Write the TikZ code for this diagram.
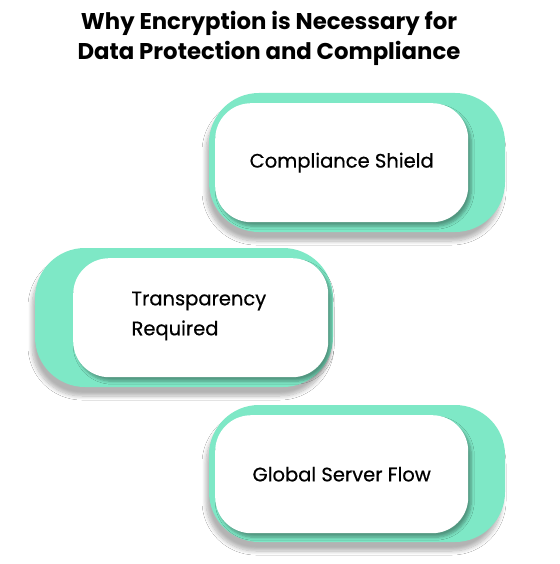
\documentclass[tikz,border=0pt]{standalone}
\usepackage{fontspec}
\setmainfont{Poppins}
\newfontfamily\lblfont{Poppins}[FakeBold=0.6]
\usetikzlibrary{shadows.blur}
\definecolor{mint}{RGB}{126,232,198}
\tikzset{
  greenpill/.style={fill=mint, rounded corners=50pt, blur shadow={shadow xshift=-3pt, shadow yshift=-9pt, shadow blur steps=8, shadow blur radius=4pt, shadow opacity=30}},
  whitepill/.style={fill=white, rounded corners=36pt, blur shadow={shadow xshift=3pt, shadow yshift=-4pt, shadow blur steps=6, shadow blur radius=3pt, shadow opacity=35}},
  lbl/.style={font=\lblfont\fontsize{19.5}{30}\selectfont, text=black},
}
\begin{document}
\begin{tikzpicture}[x=1pt,y=-1pt]
\useasboundingbox[fill=white] (0,0) rectangle (559,564);
\node[font=\fontsize{22.8}{30}\selectfont\bfseries, align=center] (title) at (269,38) {Why Encryption is Necessary for\\Data Protection and Compliance};
% box 1
\draw[greenpill, draw=none] (209,93) rectangle (505,232);
\node[whitepill, draw=none, minimum width=253pt, minimum height=119pt, inner sep=0pt, anchor=north west] (b1) at (215,103) {};
\node[lbl] (t1) at (b1.center) {Compliance Shield};
% box 2
\draw[greenpill, draw=none] (35,248) rectangle (333,387);
\node[whitepill, draw=none, minimum width=255pt, minimum height=119pt, inner sep=0pt, anchor=north west] (b2) at (73,258) {};
\node[lbl, align=left, anchor=west] (t2) at (128,316) {Transparency\\Required};
% box 3
\draw[greenpill, draw=none] (209,405) rectangle (505,542);
\node[whitepill, draw=none, minimum width=253pt, minimum height=118pt, inner sep=0pt, anchor=north west] (b3) at (215,415) {};
\node[lbl] (t3) at (b3.center) {Global Server Flow};
\end{tikzpicture}
\end{document}
